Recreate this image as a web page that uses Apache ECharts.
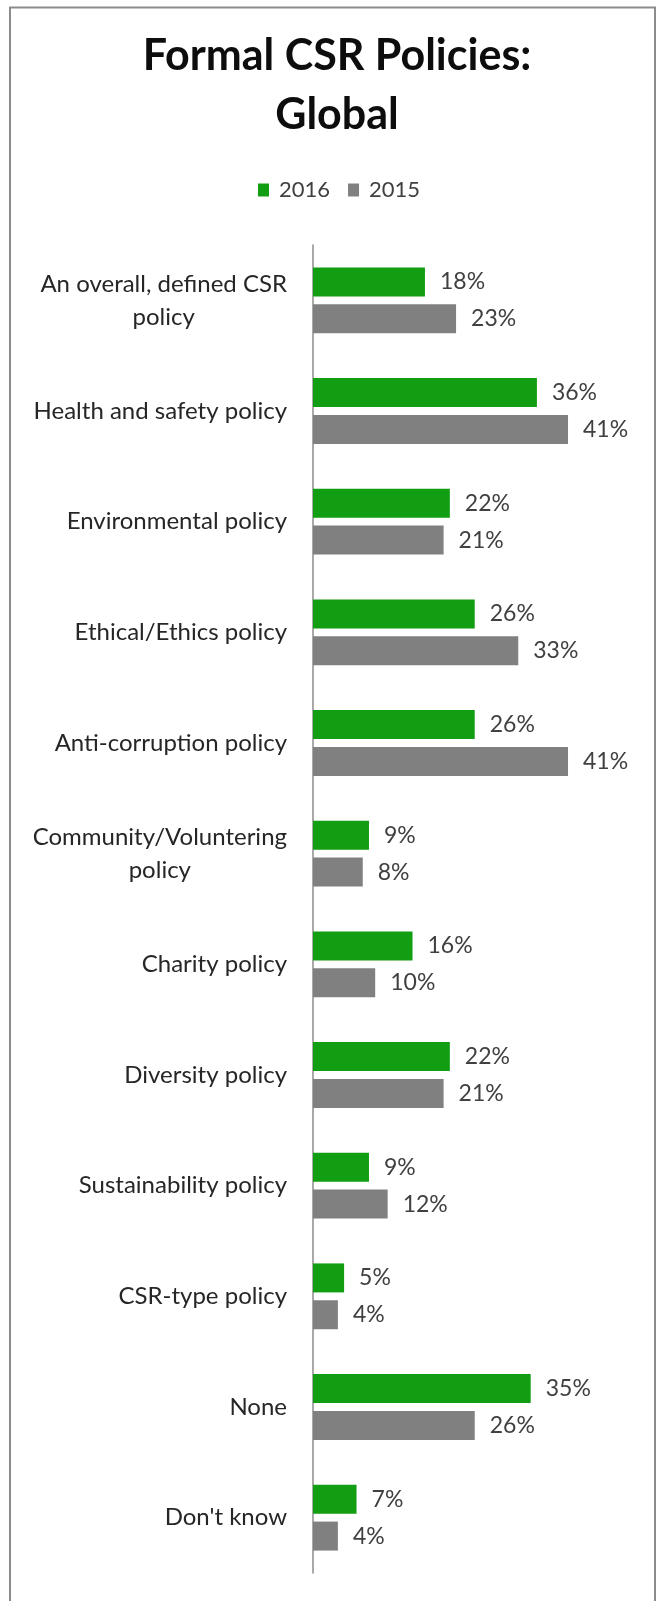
<!DOCTYPE html>
<html>
<head>
<meta charset="utf-8">
<script src="https://cdn.jsdelivr.net/npm/echarts@6/dist/echarts.min.js"></script>
<style>
  html, body { margin: 0; padding: 0; background: #fff; }
  #chart { width: 659px; height: 1601px; }
</style>
</head>
<body>
<div id="chart"></div>
<script>
// Share of companies with each formal CSR policy, by survey year (%)
const categories = [
  'An overall, defined CSR\npolicy',
  'Health and safety policy',
  'Environmental policy',
  'Ethical/Ethics policy',
  'Anti-corruption policy',
  'Community/Voluntering\npolicy',
  'Charity policy',
  'Diversity policy',
  'Sustainability policy',
  'CSR-type policy',
  'None',
  "Don't know"
];
const values2016 = [18, 36, 22, 26, 26, 9, 16, 22, 9, 5, 35, 7];
const values2015 = [23, 41, 21, 33, 41, 8, 10, 21, 12, 4, 26, 4];
const seriesNames = ['2016', '2015'];

const FONT = 'Lato';
const chart = echarts.init(document.getElementById('chart'), null, { renderer: 'canvas' });

const valueLabel = {
  show: true,
  position: 'right',
  distance: 15,
  formatter: p => p.value + '%',
  color: '#404040',
  fontFamily: FONT,
  fontSize: 23
};

// Wrapped category names: each line centred inside a right-aligned block
function categoryLabel(name) {
  if (name.indexOf('\n') < 0) return name;
  return name.split('\n').map(line => '{c|' + line + '}').join('\n');
}

chart.setOption({
  animation: false,
  backgroundColor: '#fff',
  graphic: [{
    type: 'rect',
    shape: { x: 10, y: 7.5, width: 645, height: 1620 },
    style: { fill: 'none', stroke: '#8c8c8c', lineWidth: 2 },
    silent: true
  }],
  title: {
    text: 'Formal CSR Policies:\nGlobal',
    left: 332,
    top: 22,
    textAlign: 'center',
    textStyle: {
      fontFamily: FONT,
      fontWeight: 'bold',
      fontSize: 43,
      lineHeight: 59,
      color: '#0d0d0d'
    }
  },
  legend: {
    data: seriesNames,
    top: 174,
    left: 253,
    icon: 'rect',
    itemWidth: 11,
    itemHeight: 13,
    itemGap: 18,
    textStyle: { fontFamily: FONT, fontSize: 22, color: '#404040', padding: [0, 0, 0, 5] }
  },
  grid: { left: 313, right: 35, top: 245, bottom: 28, containLabel: false },
  xAxis: {
    type: 'value',
    min: 0,
    max: 50,
    show: false
  },
  yAxis: {
    type: 'category',
    data: categories,
    inverse: true,
    axisTick: { show: false },
    axisLine: { show: true, lineStyle: { color: '#8c8c8c', width: 1.5 } },
    axisLabel: {
      margin: 26,
      fontFamily: FONT,
      fontSize: 24,
      lineHeight: 33,
      color: '#262626',
      align: 'right',
      formatter: categoryLabel,
      rich: {
        c: { align: 'center', fontFamily: FONT, fontSize: 24, lineHeight: 33, color: '#262626' }
      }
    }
  },
  series: [
    {
      name: seriesNames[0],
      type: 'bar',
      data: values2016,
      barWidth: 29,
      barGap: '27%',
      itemStyle: { color: '#129e12' },
      label: valueLabel
    },
    {
      name: seriesNames[1],
      type: 'bar',
      data: values2015,
      barWidth: 29,
      barGap: '27%',
      itemStyle: { color: '#808080' },
      label: valueLabel
    }
  ]
});
</script>
</body>
</html>
